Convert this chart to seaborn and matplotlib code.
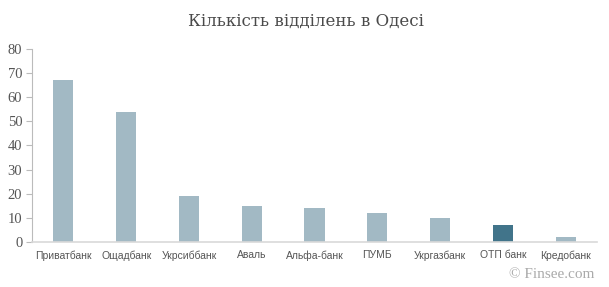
import matplotlib
matplotlib.use("Agg")
import matplotlib.pyplot as plt
import seaborn as sns
import pandas as pd

banks = ["Приватбанк", "Ощадбанк", "Укрсиббанк", "Аваль", "Альфа-банк", "ПУМБ", "Укргазбанк", "ОТП банк", "Кредобанк"]
branches = [67, 54, 19, 15, 14, 12, 10, 7, 2]
highlight = "ОТП банк"
yticks = [0, 10, 20, 30, 40, 50, 60, 70, 80]

sns.set_theme(style="white")
plt.rcParams['font.family'] = ['DejaVu Sans']

df = pd.DataFrame({"bank": banks, "n": branches})
palette = {b: ("#41748A" if b == highlight else "#A2B9C4") for b in banks}

fig = plt.figure(figsize=(6.09, 2.87), dpi=100)
ax = fig.add_axes([32/609, 45/287, (597-32)/609, (242-49)/287])
sns.barplot(data=df, x="bank", y="n", hue="bank", palette=palette, width=0.32,
            legend=False, ax=ax, saturation=1, linewidth=0)
ax.set_ylim(0, 80)
ax.set_yticks(yticks)
ax.set_yticklabels([str(t) for t in yticks], family="Liberation Serif", fontsize=10.5, color="#555555")
ax.set_xticks(range(len(banks)))
ax.set_xticklabels(banks, family="Liberation Sans", fontsize=7.5, color="#555555")
ax.set_xlabel("")
ax.set_ylabel("")
ax.tick_params(axis="x", length=0, pad=6)
ax.tick_params(axis="y", length=4, width=0.8, color="#BBBBBB", left=True, pad=3)
for s in ["top", "right"]:
    ax.spines[s].set_visible(False)
ax.spines["left"].set_color("#BBBBBB")
ax.spines["left"].set_linewidth(0.8)
ax.spines["bottom"].set_color("#D9D9D9")
ax.spines["bottom"].set_linewidth(1.2)
ax.set_xlim(-0.5, len(banks) - 0.5)

fig.text(306/609, 1 - 21/287, "Кількість відділень в Одесі", ha="center", va="center",
         family="DejaVu Serif", fontsize=12, color="#4A4A4A")
fig.text(594/609, 1 - 274/287, "© Finsee.com", ha="right", va="center",
         family="Liberation Serif", fontsize=11, color="#AAAAAA")

fig.savefig("out.png", dpi=100)
